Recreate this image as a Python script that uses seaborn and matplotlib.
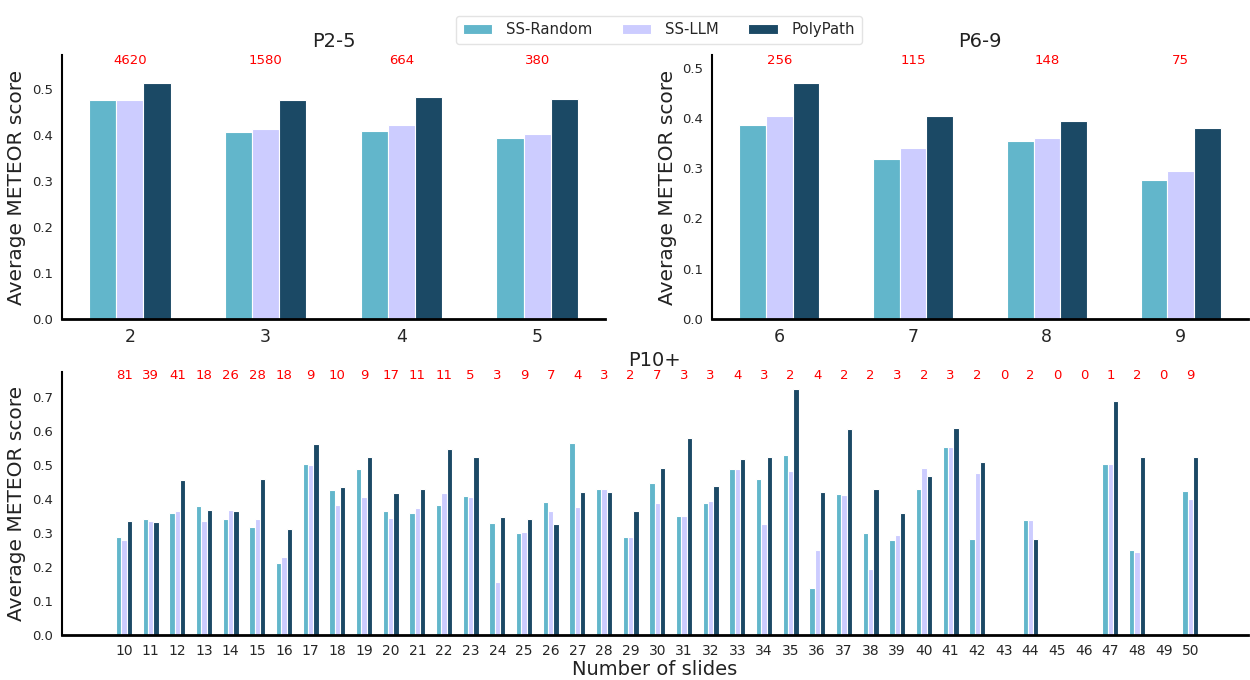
import numpy as np
import pandas as pd
import matplotlib
matplotlib.use("Agg")
import matplotlib.pyplot as plt
import seaborn as sns

methods = ["SS-Random", "SS-LLM", "PolyPath"]
palette = ["#62B6CB", "#CCCCFF", "#1B4965"]

# ---- P2-5 ----
p25_slides = [2, 3, 4, 5]
p25_random = [0.475, 0.406, 0.408, 0.394]
p25_llm = [0.476, 0.413, 0.422, 0.401]
p25_poly = [0.512, 0.476, 0.483, 0.477]
p25_counts = [4620, 1580, 664, 380]

# ---- P6-9 ----
p69_slides = [6, 7, 8, 9]
p69_random = [0.386, 0.318, 0.354, 0.277]
p69_llm = [0.403, 0.341, 0.361, 0.295]
p69_poly = [0.469, 0.403, 0.395, 0.380]
p69_counts = [256, 115, 148, 75]

# ---- P10+ ----
p10_slides = list(range(10, 51))
p10_random = [0.287, 0.342, 0.360, 0.379, 0.341, 0.317, 0.211, 0.503, 0.426, 0.488,
              0.364, 0.360, 0.382, 0.408, 0.329, 0.299, 0.390, 0.565, 0.429, 0.287,
              0.447, 0.349, 0.388, 0.487, 0.458, 0.529, 0.140, 0.415, 0.301, 0.279,
              0.428, 0.552, 0.284, None, 0.339, None, None, 0.502, 0.250, None, 0.423]
p10_llm = [0.279, 0.336, 0.366, 0.335, 0.368, 0.341, 0.231, 0.499, 0.382, 0.406,
           0.344, 0.373, 0.417, 0.405, 0.157, 0.303, 0.366, 0.375, 0.429, 0.287,
           0.388, 0.349, 0.393, 0.487, 0.326, 0.481, 0.250, 0.411, 0.194, 0.294,
           0.490, 0.552, 0.477, None, 0.339, None, None, 0.502, 0.244, None, 0.399]
p10_poly = [0.335, 0.332, 0.455, 0.367, 0.366, 0.458, 0.313, 0.560, 0.434, 0.522,
            0.417, 0.429, 0.548, 0.522, 0.347, 0.341, 0.326, 0.420, 0.420, 0.364,
            0.491, 0.579, 0.438, 0.517, 0.524, 0.722, 0.420, 0.606, 0.429, 0.358,
            0.467, 0.607, 0.507, None, 0.282, None, None, 0.686, 0.523, None, 0.524]
p10_counts = [81, 39, 41, 18, 26, 28, 18, 9, 10, 9, 17, 11, 11, 5, 3, 9, 7, 4, 3, 2,
              7, 3, 3, 4, 3, 2, 4, 2, 2, 3, 2, 3, 2, 0, 2, 0, 0, 1, 2, 0, 9]


def long_df(slides, r, l, p):
    rows = []
    for m, vals in zip(methods, [r, l, p]):
        for s, v in zip(slides, vals):
            if v is not None:
                rows.append({"slides": str(s), "method": m, "score": v})
    return pd.DataFrame(rows)


sns.set_style("white")
plt.rcParams["font.family"] = ["DejaVu Sans"]

fig = plt.figure(figsize=(12.5, 6.8), dpi=100)
ax1 = fig.add_axes([0.0496, 0.531, 0.4344, 0.388])
ax2 = fig.add_axes([0.570, 0.531, 0.428, 0.388])
ax3 = fig.add_axes([0.0496, 0.0657, 0.9484, 0.3873])


def panel(ax, slides, r, l, p, counts, title, ymul, tick_fs, cnt_y, title_pad,
          xlabel=None):
    df = long_df(slides, r, l, p)
    order = [str(s) for s in slides]
    sns.barplot(data=df, x="slides", y="score", hue="method", order=order,
                hue_order=methods, palette=palette, width=0.6, ax=ax,
                saturation=1, edgecolor="white", linewidth=0.8, legend=True)
    vmax = np.nanmax([v for v in r + l + p if v is not None])
    ax.set_ylim(0, vmax * ymul)
    ax.set_title(title, fontsize=14, pad=title_pad, color="#222222")
    ax.set_ylabel("Average METEOR score", fontsize=14.5, color="#222222")
    ax.set_xlabel(xlabel if xlabel else "", fontsize=14, color="#222222",
                  labelpad=1)
    ax.tick_params(axis="x", labelsize=tick_fs, colors="#262626", pad=3)
    ax.tick_params(axis="y", labelsize=9.5, colors="#262626", pad=3)
    trans = ax.get_xaxis_transform()
    for i, c in enumerate(counts):
        ax.text(i, cnt_y, str(c), color="red", fontsize=9.5, ha="center",
                va="center", transform=trans)
    for side in ["top", "right"]:
        ax.spines[side].set_visible(False)
    ax.spines["left"].set_color("black")
    ax.spines["left"].set_linewidth(1.5)
    ax.spines["bottom"].set_color("black")
    ax.spines["bottom"].set_linewidth(2)
    handles, labels = ax.get_legend_handles_labels()
    leg = ax.get_legend()
    if leg is not None:
        leg.remove()
    return handles, labels


handles, labels = panel(ax1, p25_slides, p25_random, p25_llm, p25_poly, p25_counts,
                        "P2-5", 1.12, 12.5, 0.978, 6)
panel(ax2, p69_slides, p69_random, p69_llm, p69_poly, p69_counts,
      "P6-9", 1.12, 12.5, 0.978, 6)
panel(ax3, p10_slides, p10_random, p10_llm, p10_poly, p10_counts,
      "P10+", 1.07, 10, 0.987, 4, xlabel="Number of slides")
ax3.set_xlim(-2.33, 42.14)

fig.legend(handles, labels, loc="upper center", bbox_to_anchor=(0.527, 0.988),
           ncol=3, fontsize=10.7, frameon=True, handlelength=2.0, columnspacing=2.0,
           handletextpad=0.9, borderpad=0.45, edgecolor="#dddddd")

fig.savefig("out.png", dpi=100)
